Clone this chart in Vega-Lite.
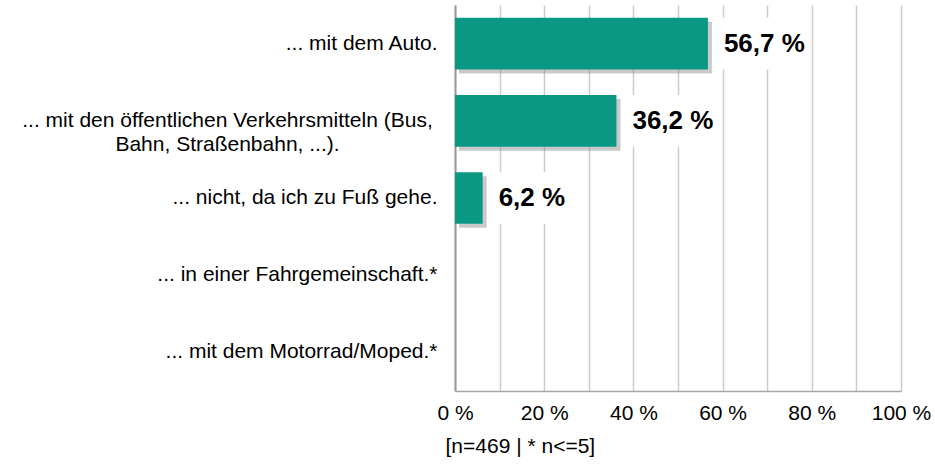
{
  "$schema": "https://vega.github.io/schema/vega-lite/v6.json",
  "width": 446,
  "height": 386,
  "autosize": "none",
  "padding": {"left": 455, "top": 5, "right": 34, "bottom": 81},
  "background": "white",
  "config": {
    "font": "Liberation Sans",
    "view": {"stroke": null},
    "locale": {"number": {"decimal": ",", "thousands": ".", "grouping": [3], "currency": ["", " %"]}}
  },
  "data": {
    "values": [
      {"kategorie": "... mit dem Auto.", "anteil": 56.7},
      {"kategorie": "... mit den öffentlichen Verkehrsmitteln (Bus, Bahn, Straßenbahn, ...).", "anteil": 36.2},
      {"kategorie": "... nicht, da ich zu Fuß gehe.", "anteil": 6.2},
      {"kategorie": "... in einer Fahrgemeinschaft.*", "anteil": null},
      {"kategorie": "... mit dem Motorrad/Moped.*", "anteil": null}
    ]
  },
  "resolve": {"axis": {"y": "independent"}},
  "encoding": {
    "y": {
      "field": "kategorie",
      "type": "nominal",
      "sort": null,
      "scale": {
        "domain": ["... mit dem Auto.", "... mit den öffentlichen Verkehrsmitteln (Bus, Bahn, Straßenbahn, ...).", "... nicht, da ich zu Fuß gehe.", "... in einer Fahrgemeinschaft.*", "... mit dem Motorrad/Moped.*"],
        "paddingInner": 0.33,
        "paddingOuter": 0.165
      }
    }
  },
  "layer": [
    {
      "mark": {"type": "bar", "color": "#8a8a8a", "opacity": 0.45, "xOffset": 4, "x2Offset": 4, "yOffset": 4, "y2Offset": 4},
      "encoding": {
        "x": {
          "field": "anteil",
          "type": "quantitative",
          "scale": {"domain": [0, 100], "nice": false},
          "axis": {
            "values": [0, 10, 20, 30, 40, 50, 60, 70, 80, 90, 100],
            "format": "$.0f",
            "labelExpr": "datum.value % 20 == 0 ? datum.label : ''",
            "labelFontSize": 21,
            "labelColor": "#000000",
            "labelPadding": 11,
            "labelFlush": false,
            "ticks": false,
            "grid": true,
            "gridColor": "#cccccc",
            "gridWidth": 1.5,
            "domainColor": "#a6a6a6",
            "domainWidth": 1.5,
            "title": "[n=469 | * n<=5]",
            "titleFontSize": 21,
            "titleFontWeight": "normal",
            "titleColor": "#000000",
            "titleAnchor": "start",
            "titleAlign": "left",
            "titleX": -10,
            "titlePadding": 12
          }
        },
        "y": {
          "field": "kategorie",
          "type": "nominal",
          "sort": null,
          "axis": {
            "orient": "left",
            "title": null,
            "ticks": false,
            "labelFontSize": 21,
            "labelColor": "#000000",
            "labelPadding": 18,
            "labelLimit": 500,
            "labelAlign": "right",
            "labelExpr": "indexof(datum.value, 'Verkehrsmitteln') >= 0 ? '' : datum.value",
            "domainColor": "#999999",
            "domainWidth": 2
          }
        }
      }
    },
    {
      "mark": {"type": "bar", "color": "#0a9783"},
      "encoding": {
        "x": {"field": "anteil", "type": "quantitative"},
        "y": {
          "field": "kategorie",
          "type": "nominal",
          "sort": null,
          "axis": {
            "orient": "left",
            "title": null,
            "ticks": false,
            "domain": false,
            "labelFontSize": 21,
            "labelColor": "#000000",
            "labelPadding": 228,
            "labelLimit": 600,
            "labelAlign": "center",
            "labelLineHeight": 24,
            "labelExpr": "indexof(datum.value, 'Verkehrsmitteln') >= 0 ? ['... mit den öffentlichen Verkehrsmitteln (Bus,', 'Bahn, Straßenbahn, ...).'] : ''"
          }
        }
      }
    },
    {
      "mark": {"type": "bar", "color": "white", "xOffset": 12, "x2Offset": 100},
      "encoding": {
        "x": {"field": "anteil", "type": "quantitative"},
        "x2": {"field": "anteil"},
        "y": {"field": "kategorie", "type": "nominal", "sort": null, "axis": null}
      }
    },
    {
      "mark": {"type": "text", "align": "left", "baseline": "middle", "dx": 16, "fontSize": 26, "fontWeight": "bold", "color": "#000000"},
      "encoding": {
        "x": {"field": "anteil", "type": "quantitative"},
        "y": {"field": "kategorie", "type": "nominal", "sort": null, "axis": null},
        "text": {"field": "anteil", "type": "quantitative", "format": "$.1f"}
      }
    }
  ]
}
